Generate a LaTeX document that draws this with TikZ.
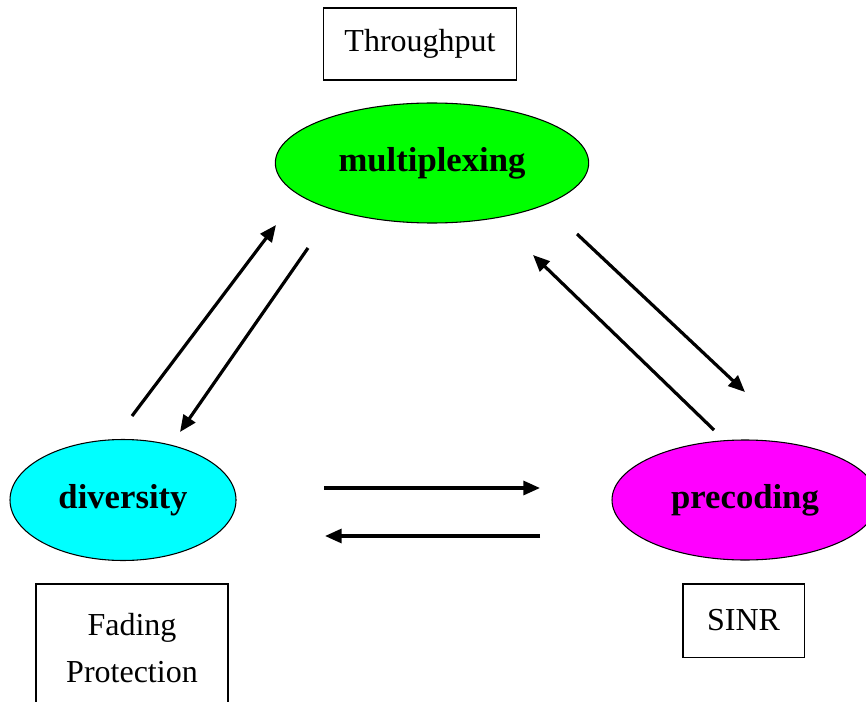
\documentclass[tikz,border=0pt]{standalone}
\usepackage{fontspec}
\setmainfont{Liberation Serif}
\usetikzlibrary{arrows.meta,positioning,shapes.geometric}

\definecolor{muxgreen}{RGB}{0,255,0}
\definecolor{divcyan}{RGB}{0,255,255}
\definecolor{premagenta}{RGB}{255,0,255}

\begin{document}
\begin{tikzpicture}[x=0.75pt, y=-0.75pt, >={Triangle[length=12.5pt,width=10.5pt]},
        mode/.style={draw, ellipse, line width=0.8pt, inner sep=0pt, font=\fontsize{26}{30}\selectfont\bfseries},
        infobox/.style={draw, line width=1pt, align=center, font=\fontsize{24}{35}\selectfont},
        link/.style={->, line width=2.4pt}]
        \useasboundingbox (0,0) rectangle (866,702);
        \clip (0,0) rectangle (866,702);

        \node[mode, fill=muxgreen, minimum width=235pt, minimum height=90pt] (mux) at (432,163) {multiplexing};
        \node[mode, fill=divcyan, minimum width=169.5pt, minimum height=90.75pt] (div) at (123,500) {diversity};
        \node[mode, fill=premagenta, minimum width=199.5pt, minimum height=90pt] (pre) at (745,500) {precoding};

        \node[infobox, minimum width=144.75pt, minimum height=54pt] (thr) at (420,44) {Throughput};
        \node[infobox, minimum width=144pt, minimum height=96pt] (fade) at (132,648) {Fading\\Protection};
        \node[infobox, minimum width=91pt, minimum height=55pt] (sinr) at (743.5,620.5) {SINR};

        % free ends of the links
        \coordinate (d2m-a) at (132,416);
        \coordinate (d2m-b) at (276,225);
        \coordinate (m2d-a) at (308,248);
        \coordinate (m2d-b) at (180,432);
        \coordinate (m2p-a) at (577,234);
        \coordinate (m2p-b) at (745,392);
        \coordinate (p2m-a) at (714,430);
        \coordinate (p2m-b) at (533,255);
        \coordinate (d2p-a) at (324,488);
        \coordinate (d2p-b) at (540,488);
        \coordinate (p2d-a) at (540,536);
        \coordinate (p2d-b) at (325,536);

        \draw[link] (d2m-a) -- (d2m-b);
        \draw[link] (m2d-a) -- (m2d-b);
        \draw[link] (m2p-a) -- (m2p-b);
        \draw[link] (p2m-a) -- (p2m-b);
        \draw[link] (d2p-a) -- (d2p-b);
        \draw[link] (p2d-a) -- (p2d-b);
    \end{tikzpicture}
\end{document}
